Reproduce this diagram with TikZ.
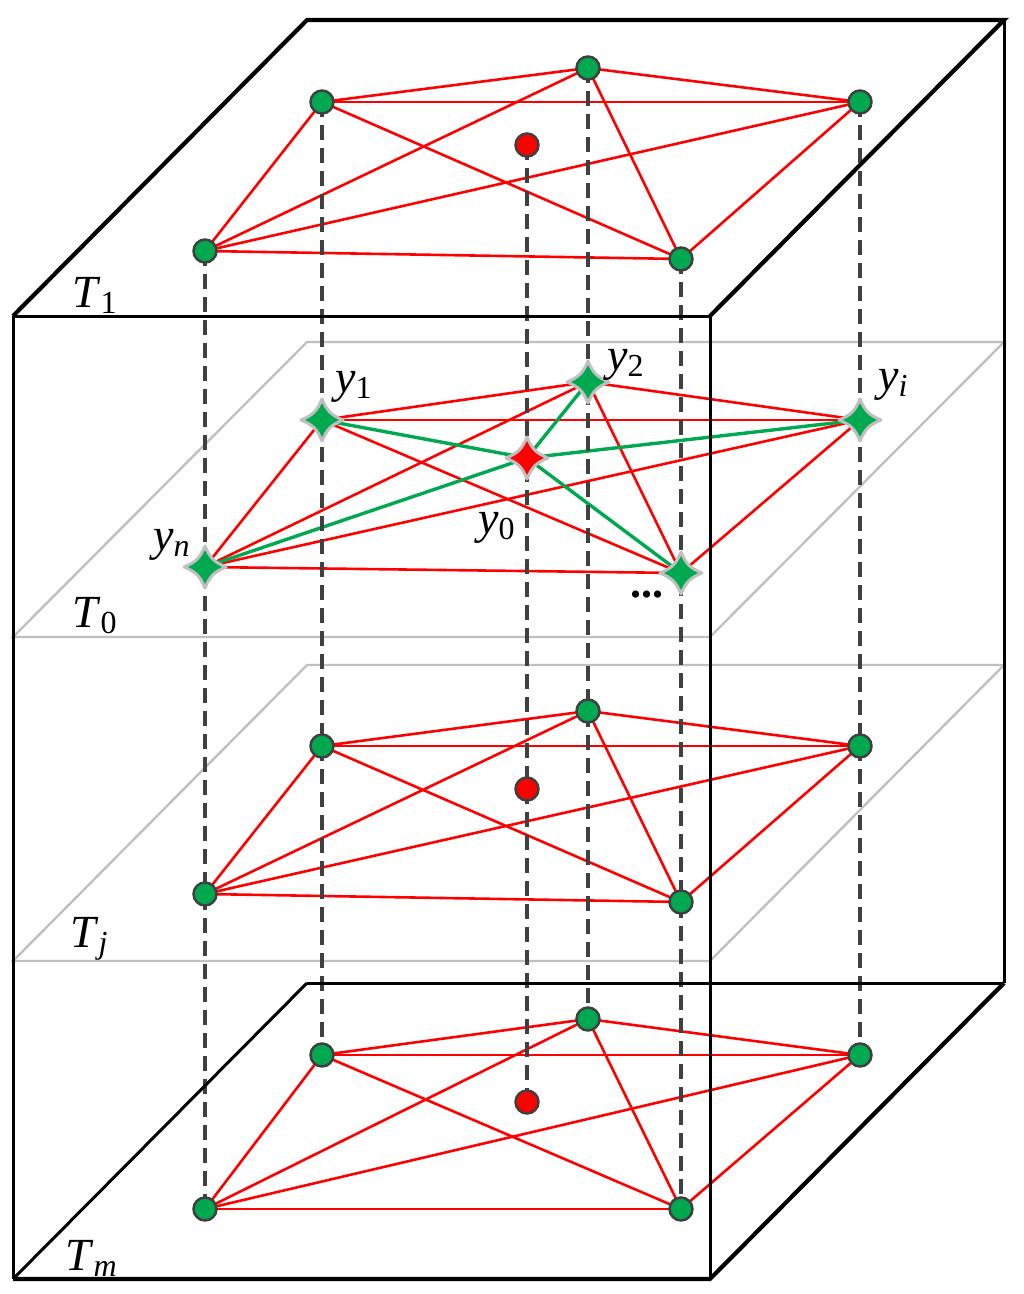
\documentclass[tikz,border=0pt]{standalone}
\usepackage{fontspec}
\setmainfont{Liberation Serif}
\definecolor{nodegreen}{RGB}{0,168,80}
\definecolor{nodered}{RGB}{255,0,0}
\definecolor{rimdark}{RGB}{64,64,64}
\definecolor{rimlight}{RGB}{192,192,192}
\definecolor{planegray}{RGB}{192,192,192}
\pgfdeclarelayer{bg}
\pgfsetlayers{bg,main}
\newcommand{\sublab}[2]{\textit{#1}\raisebox{-6pt}{\fontsize{32}{32}\selectfont #2}}
\newcommand{\starglyph}[2]{%
  \begin{scope}[shift={(#1.center)}]
    \filldraw[fill=#2,draw=rimlight,line width=3pt,line join=round]
      (0,-21) .. controls (5,-9) and (9,-5) .. (21,0)
      .. controls (9,5) and (5,9) .. (0,21)
      .. controls (-5,9) and (-9,5) .. (-21,0)
      .. controls (-9,-5) and (-5,-9) .. cycle;
  \end{scope}}
\tikzset{
  dotg/.style={circle,fill=nodegreen,draw=rimdark,line width=2.5pt,minimum size=23pt,inner sep=0pt},
  dotr/.style={dotg,fill=nodered},
  starspot/.style={circle,minimum size=40pt,inner sep=0pt},
  rededge/.style={draw=nodered,line width=2.6pt},
  greenedge/.style={draw=nodegreen,line width=3.4pt},
  vline/.style={draw=rimdark,line width=3.2pt,dash pattern=on 15pt off 8pt},
  planeline/.style={draw=planegray,line width=2.4pt,line join=miter},
  boxthin/.style={draw=black,line width=3pt,line join=miter},
  boxthick/.style={draw=black,line width=4.2pt,line join=miter},
  lab/.style={anchor=base west,inner sep=0pt,font=\fontsize{46}{50}\selectfont}
}
\begin{document}
\begin{tikzpicture}[x=1pt,y=-1pt]
\useasboundingbox (0,0) rectangle (1024,1294);
% layer T1
\node[dotg] (a1) at (322,102) {};
\node[dotg] (b1) at (588,68) {};
\node[dotg] (c1) at (860,102) {};
\node[dotg] (d1) at (205,251) {};
\node[dotg] (e1) at (681,259) {};
\node[dotr] (r1) at (527,145) {};
% layer T0
\node[starspot] (a0) at (322,420) {};
\node[starspot] (b0) at (588,382) {};
\node[starspot] (c0) at (860,420) {};
\node[starspot] (d0) at (205,567) {};
\node[starspot] (e0) at (681,573) {};
\node[starspot] (r0) at (527,458) {};
% layer Tj
\node[dotg] (aj) at (322,746) {};
\node[dotg] (bj) at (588,711) {};
\node[dotg] (cj) at (860,746) {};
\node[dotg] (dj) at (205,894) {};
\node[dotg] (ej) at (681,902) {};
\node[dotr] (rj) at (527,789) {};
% layer Tm
\node[dotg] (am) at (322,1055) {};
\node[dotg] (bm) at (588,1019) {};
\node[dotg] (cm) at (860,1055) {};
\node[dotg] (dm) at (205,1209) {};
\node[dotg] (em) at (681,1209) {};
\node[dotr] (rm) at (527,1102) {};
% star glyphs
\foreach \q in {a0,b0,c0,d0,e0}{\starglyph{\q}{nodegreen}}
\starglyph{r0}{nodered}
\begin{pgfonlayer}{bg}
% planes
\draw[planeline] (13,637) -- (307,342) -- (1004,342) -- (710,637) -- cycle;
\draw[planeline] (13,961) -- (307,665) -- (1004,665) -- (710,961) -- cycle;
% edges
\foreach \L in {1,0,j,m}{
  \foreach \p/\q in {a/b,a/c,a/d,a/e,b/c,b/d,b/e,c/d,c/e,d/e}{
    \draw[rededge] (\p\L.center) -- (\q\L.center);
  }
}
\foreach \q in {a,b,c,d,e}{
  \draw[greenedge] (r0.center) -- (\q0.center);
}
% vertical dashed lines
\foreach \p in {a,b,c,d,e,r}{
  \draw[vline] (\p1.center) -- (\p m.center);
}
% box
\draw[boxthin] (1004,20) -- (1004,983);
\draw[boxthin] (307,983) -- (1004,983);
\draw[boxthin] (13,1279) -- (307,983);
\draw[boxthin] (13,316) -- (710,316);
\draw[boxthin] (13,316) -- (13,1279);
\draw[boxthin] (710,316) -- (710,1279);
\draw[boxthick] (13,316) -- (307,20) -- (1004,20) -- (710,316);
\draw[boxthick] (13,1279) -- (710,1279) -- (1004,983);
\end{pgfonlayer}
% labels
\node[lab] (lt1) at (72,307) {\sublab{T}{1}};
\node[lab] (lt0) at (72,627) {\sublab{T}{0}};
\node[lab] (ltj) at (70,947) {\sublab{T}{\textit{j}}};
\node[lab] (ltm) at (65,1270) {\sublab{T}{\textit{m}}};
\node[lab] (ly1) at (335,392) {\sublab{y}{1}};
\node[lab] (ly2) at (607,370) {\sublab{y}{2}};
\node[lab] (lyi) at (878,390) {\sublab{y}{\textit{i}}};
\node[lab] (lyn) at (153,550) {\sublab{y}{\textit{n}}};
\node[lab] (ly0) at (478,533) {\sublab{y}{0}};
\node[lab,font=\fontsize{44}{48}\selectfont\bfseries] (ldots) at (630,597) {...};
\end{tikzpicture}
\end{document}
